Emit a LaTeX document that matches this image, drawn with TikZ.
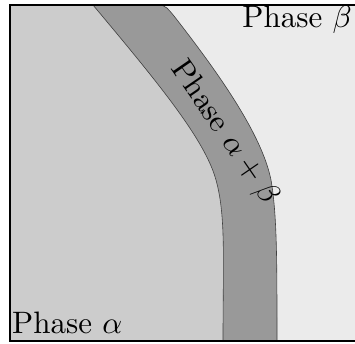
\documentclass[tikz,border=0pt]{standalone}
\begin{document}
\begin{tikzpicture}[x=1pt,y=-1pt,
  lbl/.style={inner sep=0pt}]
\useasboundingbox (0,0) rectangle (355,343);
\definecolor{alphacol}{HTML}{CCCCCC}
\definecolor{bandcol}{HTML}{999999}
\definecolor{betacol}{HTML}{EBEBEB}
\begin{scope}
\clip (0,0) rectangle (355,343);
\fill[betacol] (10,5) rectangle (365,341);
\fill[alphacol] (10,5) -- (93,5) .. controls (160,85) and (205,140) .. (216,180)
  .. controls (226,216) and (223,260) .. (223,341) -- (10,341) -- cycle;
\filldraw[fill=bandcol,draw=black!75,line width=0.6pt]
  (93,5) -- (158,5) .. controls (166,5) and (168,9) .. (174,16)
  .. controls (220,75) and (262,135) .. (271,180)
  .. controls (277,215) and (277,260) .. (277,341)
  -- (223,341) .. controls (223,260) and (226,216) .. (216,180)
  .. controls (205,140) and (160,85) .. (93,5) -- cycle;
\draw[line width=2pt] (10,5) rectangle (365,341);
\end{scope}
\node[lbl,anchor=base east] (beta) at (352,27) {\scalebox{3.1}{Phase $\beta$}};
\node[lbl,anchor=base west] (alpha) at (12,333) {\scalebox{3.1}{Phase $\alpha$}};
\node[lbl,rotate=-55.5] (ab) at (224,133) {\scalebox{3.1}{Phase $\alpha+\beta$}};
\end{tikzpicture}
\end{document}
